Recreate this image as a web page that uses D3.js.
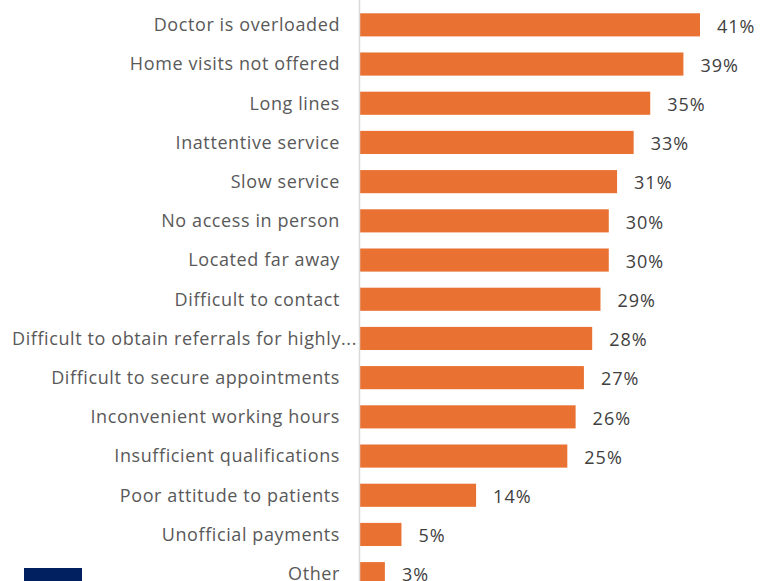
<!DOCTYPE html>
<html>
<head>
<meta charset="utf-8">
<script src="https://cdn.jsdelivr.net/npm/d3@7"></script>
<style>
  html, body { margin: 0; padding: 0; background: #fff; }
  svg { display: block; }
</style>
</head>
<body>
<div id="chart"></div>
<script>
// Reasons for dissatisfaction with the family doctor (share of respondents, %)
const categories = [
  "Doctor is overloaded",
  "Home visits not offered",
  "Long lines",
  "Inattentive service",
  "Slow service",
  "No access in person",
  "Located far away",
  "Difficult to contact",
  "Difficult to obtain referrals for highly...",
  "Difficult to secure appointments",
  "Inconvenient working hours",
  "Insufficient qualifications",
  "Poor attitude to patients",
  "Unofficial payments",
  "Other"
];
const values = [41, 39, 35, 33, 31, 30, 30, 29, 28, 27, 26, 25, 14, 5, 3];
const valueLabels = values.map(v => v + "%");

const width = 761, height = 581;
const svg = d3.select("#chart").append("svg")
  .attr("width", width).attr("height", height);

const x = d3.scaleLinear().domain([0, 41]).range([360, 700]);
const y = d3.scaleBand().domain(categories).range([-2.8, 601.3]).padding(0.41);

// Bars
svg.selectAll("rect.bar").data(values).join("rect")
  .attr("class", "bar")
  .attr("x", x(0))
  .attr("y", (d, i) => y(categories[i]))
  .attr("width", d => x(d) - x(0))
  .attr("height", y.bandwidth())
  .attr("fill", "#E97132");

// Category axis line
svg.append("line")
  .attr("x1", 359.5).attr("x2", 359.5)
  .attr("y1", 0).attr("y2", height)
  .attr("stroke", "#d9d9d9").attr("stroke-width", 1.5);

// Category labels (truncated labels run up to the axis line)
svg.selectAll("text.cat").data(categories).join("text")
  .attr("class", "cat")
  .attr("x", d => d.endsWith("...") ? 357 : 340)
  .attr("y", d => y(d) + y.bandwidth() / 2)
  .attr("dy", "0.35em")
  .attr("text-anchor", "end")
  .attr("font-family", "'Open Sans', sans-serif")
  .attr("font-size", 18)
  .attr("letter-spacing", 0.6)
  .attr("fill", "#595959")
  .text(d => d);

// Value labels
svg.selectAll("text.val").data(values).join("text")
  .attr("class", "val")
  .attr("x", d => x(d) + 17)
  .attr("y", (d, i) => y(categories[i]) + y.bandwidth() / 2 + 1.5)
  .attr("dy", "0.35em")
  .attr("font-family", "'Open Sans', sans-serif")
  .attr("font-size", 18)
  .attr("letter-spacing", 1)
  .attr("fill", "#404040")
  .text((d, i) => valueLabels[i]);

// Corner badge
svg.append("rect")
  .attr("x", 24).attr("y", 568)
  .attr("width", 58).attr("height", 20)
  .attr("fill", "#002060");
</script>
</body>
</html>
